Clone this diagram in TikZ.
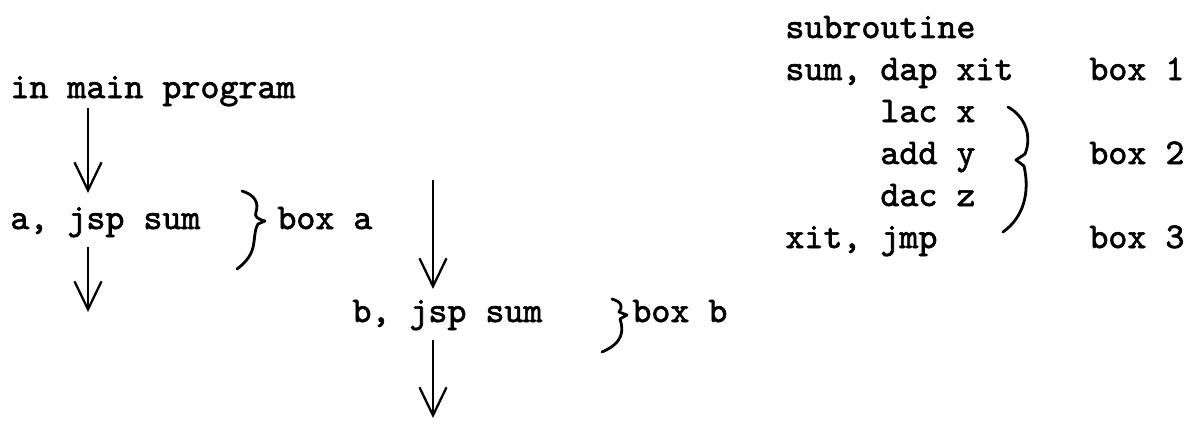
\documentclass[tikz,border=0pt]{standalone}
\usepackage{fontspec}
\newfontfamily\tw{lmmono10-regular.otf}[FakeBold=1.8]
\usetikzlibrary{arrows.meta}
\begin{document}
\begin{tikzpicture}[x=0.5pt,y=-0.5pt,
  txt/.style={inner sep=0pt,anchor=base west,font=\tw\fontsize{18.1pt}{20pt}\selectfont},
  arr/.style={line width=1.15pt,-{Straight Barb[length=14pt,width=13.5pt,line width=1.15pt]}},
  brace/.style={line width=1.4pt,line cap=round,line join=round}]
\useasboundingbox (0,0) rectangle (1191,428);
% left column
\node[txt] (inmain) at (10,98) {in main program};
\node[txt] (arow) at (10,229) {a, jsp sum};
\node[txt] (boxa) at (277,229) {box a};
\node[txt] (brow) at (352,322) {b, jsp sum};
\node[txt] (boxb) at (632,322) {box b};
% right column
\node[txt] (sub) at (785,38) {subroutine};
\node[txt] (sumr) at (785,80) {sum, dap xit};
\node[txt] (lac) at (785,122) {\ \ \ \ \ lac x};
\node[txt] (add) at (785,164) {\ \ \ \ \ add y};
\node[txt] (dac) at (785,206) {\ \ \ \ \ dac z};
\node[txt] (xit) at (785,248) {xit, jmp};
\node[txt] (box1) at (1089,80) {box 1};
\node[txt] (box2) at (1089,164) {box 2};
\node[txt] (box3) at (1089,248) {box 3};
% arrow end points
\coordinate (a1s) at (88,108);
\coordinate (a1e) at (88,193);
\coordinate (a2s) at (88,247);
\coordinate (a2e) at (88,312);
\coordinate (b1s) at (433,180);
\coordinate (b1e) at (433,289);
\coordinate (b2s) at (433,340);
\coordinate (b2e) at (433,418);
\draw[arr] (a1s) -- (a1e);
\draw[arr] (a2s) -- (a2e);
\draw[arr] (b1s) -- (b1e);
\draw[arr] (b2s) -- (b2e);
% hand-drawn braces
\draw[brace] (242,191) .. controls (255,195) and (259,203) .. (256,212)
  .. controls (254,217) and (258,219) .. (265,221)
  -- (258,224) .. controls (253,232) and (256,245) .. (250,255)
  .. controls (246,262) and (241,266) .. (237,269);
\draw[brace] (612,299) .. controls (622,302) and (623,307) .. (619,312)
  -- (627,315) -- (620,319) .. controls (624,331) and (623,343) .. (602,352);
\draw[brace] (1008,107) .. controls (1026,117) and (1032,137) .. (1025,154)
  -- (1016,160) -- (1024,166)
  .. controls (1030,192) and (1024,217) .. (1003,232);
\end{tikzpicture}
\end{document}
